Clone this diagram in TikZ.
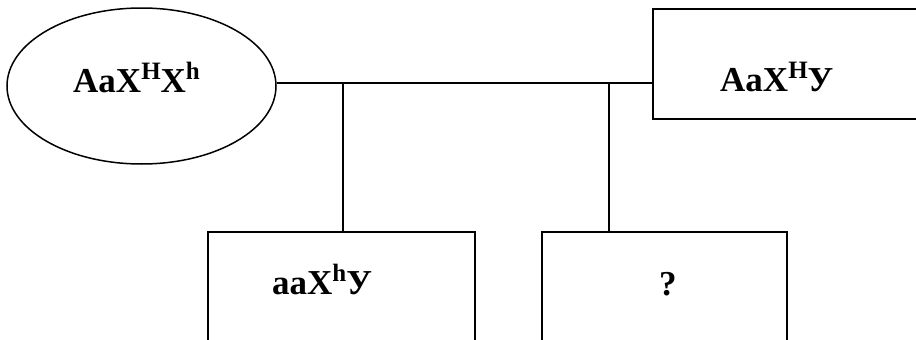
\documentclass[tikz,border=0pt]{standalone}
\usepackage{fontspec}
\setmainfont{Liberation Serif}
\usetikzlibrary{shapes.geometric}
% raised, smaller index letter
\newcommand\gup[1]{\raisebox{12.5pt}{\fontsize{25pt}{25pt}\selectfont #1}}
\tikzset{
  shape line/.style={draw=black, line width=1.5pt, inner sep=0pt},
  genotype/.style={inner sep=0pt, anchor=base west, font=\fontsize{35pt}{35pt}\selectfont\bfseries},
  link/.style={draw=black, line width=1.5pt}
}
\begin{document}
\begin{tikzpicture}[x=1pt,y=-1pt]
\useasboundingbox (0,0) rectangle (916,340);
\clip (0,0) rectangle (916,340);
% parents
\node[shape line, ellipse, minimum width=269pt, minimum height=156pt] (mother) at (141.5,86) {};
\node[shape line, rectangle, minimum width=277pt, minimum height=110pt] (father) at (791.5,64) {};
% offspring
\node[shape line, rectangle, minimum width=267pt, minimum height=140pt] (son) at (341.5,302) {};
\node[shape line, rectangle, minimum width=245pt, minimum height=140pt] (child) at (664.5,302) {};
% labels
\node[genotype] (tmother) at (73,92) {AaX\gup{H}X\gup{h}};
\node[genotype] (tfather) at (720,91) {AaX\gup{H}У};
\node[genotype] (tson) at (272,294) {aaX\gup{h}У};
\node[genotype] (tchild) at (659,295) {?};
% marriage line and descent lines
\coordinate (m) at (0,83);
\coordinate (d1) at (343,83);
\coordinate (d2) at (609,83);
\draw[link] (mother.east |- m) -- (father.west |- m);
\draw[link] (d1) -- (d1 |- son.north);
\draw[link] (d2) -- (d2 |- child.north);
\end{tikzpicture}
\end{document}
